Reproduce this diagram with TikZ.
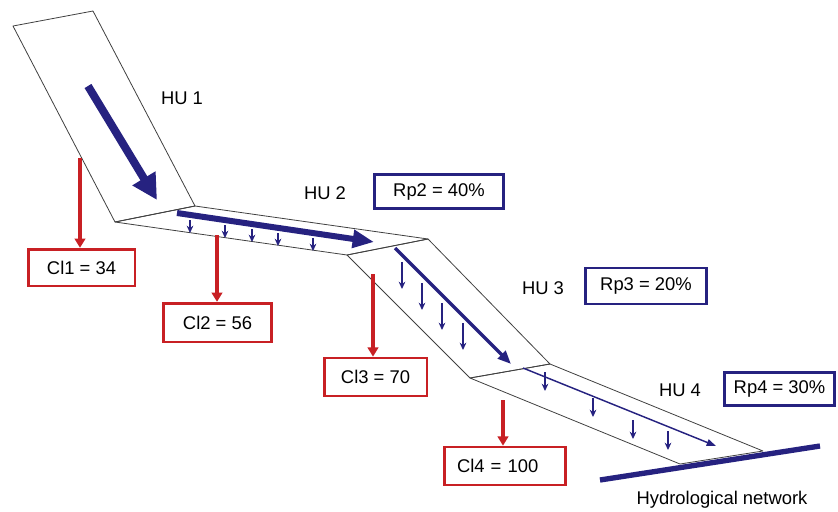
\documentclass[tikz,border=0pt]{standalone}
\usepackage{fontspec}
\setmainfont{Liberation Sans}
\usetikzlibrary{arrows.meta}

\definecolor{hunavy}{RGB}{38,34,128}
\definecolor{clred}{RGB}{200,32,36}

\tikzset{
  unit/.style={draw=black!75, line width=0.6pt, line join=round},
  loss/.style={clred, line width=2.4pt, -{Triangle[length=7pt,width=8pt]}},
  seep/.style={hunavy, line width=0.8pt, -{Stealth[length=5.5pt,width=5pt]}},
  clbox/.style={draw=clred, line width=2pt, inner sep=0pt},
  rpbox/.style={draw=hunavy, line width=2.2pt, inner sep=0pt},
  hulabel/.style={inner sep=0pt}
}

\begin{document}
\begin{tikzpicture}[x=0.75pt,y=-0.75pt,font=\fontsize{13.8}{15}\selectfont]
\useasboundingbox (0,0) rectangle (838,511);

% corners of the hydrological units
\coordinate (a1) at (13,26);
\coordinate (a2) at (93,11);
\coordinate (b1) at (115,222);
\coordinate (b2) at (195,206);
\coordinate (c1) at (347,255);
\coordinate (c2) at (428,239);
\coordinate (d1) at (470,378);
\coordinate (d2) at (550,364);
\coordinate (e1) at (680,464);
\coordinate (e2) at (763,451);

\draw[unit] (a1) -- (a2) -- (b2) -- (b1) -- cycle;
\draw[unit] (b1) -- (b2) -- (c2) -- (c1) -- cycle;
\draw[unit] (c1) -- (c2) -- (d2) -- (d1) -- cycle;
\draw[unit] (d1) -- (d2) -- (e2) -- (e1) -- cycle;

% hydrological network
\coordinate (net1) at (600,480);
\coordinate (net2) at (820,446);
\draw[hunavy, line width=4pt] (net1) -- (net2);
\node[hulabel] (net) at (722,500) {Hydrological network};

% runoff along the units
\coordinate (f1s) at (88,86);   \coordinate (f1e) at (157,200);
\coordinate (f2s) at (177,213); \coordinate (f2e) at (374,242);
\coordinate (f3s) at (395,248); \coordinate (f3e) at (511,364);
\coordinate (f4s) at (523,368); \coordinate (f4e) at (716,446);
\draw[hunavy, line width=6pt, -{Triangle[length=19pt,width=19pt]}] (f1s) -- (f1e);
\draw[hunavy, line width=4.5pt, -{Triangle[length=16pt,width=13pt]}] (f2s) -- (f2e);
\draw[hunavy, line width=2.6pt, -{Triangle[length=10pt,width=8pt]}] (f3s) -- (f3e);
\draw[hunavy, line width=1.1pt, -{Triangle[length=7pt,width=5pt]}] (f4s) -- (f4e);

% infiltration
\foreach \x/\y in {190/220, 225/225, 252/229, 278/233, 313/238}
  \draw[seep] (\x,\y) -- (\x,\y+13);
\foreach \x/\y in {402/262, 422/283, 442/303, 463/323}
  \draw[seep] (\x,\y) -- (\x,\y+27);
\foreach \x/\y in {545/372, 593/398, 633/420, 668/431}
  \draw[seep] (\x,\y) -- (\x,\y+19);

% labels
\node[hulabel] (hu1) at (182,98) {HU 1};
\node[hulabel] (hu2) at (325,193) {HU 2};
\node[hulabel] (hu3) at (543,288) {HU 3};
\node[hulabel] (hu4) at (680,390) {HU 4};

\node[rpbox, minimum width=97pt, minimum height=26pt] (rp2) at (439,191.5) {Rp2 = 40\%};
\node[rpbox, minimum width=91pt, minimum height=27pt] (rp3) at (646,286) {Rp3 = 20\%};
\node[rpbox, minimum width=83pt, minimum height=25pt] (rp4) at (779.5,389) {Rp4 = 30\%};

\node[clbox, minimum width=80pt, minimum height=27.5pt] (cl1) at (81.5,267.5) {Cl1 = 34};
\node[clbox, minimum width=81pt, minimum height=29pt] (cl2) at (217.5,322.5) {Cl2 = 56};
\node[clbox, minimum width=77pt, minimum height=28.5pt] (cl3) at (375.5,377) {Cl3 = 70};
\node[clbox, minimum width=91pt, minimum height=28.5pt, text width=72pt, align=left] (cl4) at (505,466) {Cl4 = 100};

% losses to the boxes
\coordinate (l1) at (80,158);
\coordinate (l2) at (217,235);
\coordinate (l3) at (373,274);
\coordinate (l4) at (503,400);
\draw[loss] (l1) -- (l1 |- cl1.north);
\draw[loss] (l2) -- (l2 |- cl2.north);
\draw[loss] (l3) -- (l3 |- cl3.north);
\draw[loss] (l4) -- (l4 |- cl4.north);
\end{tikzpicture}
\end{document}
